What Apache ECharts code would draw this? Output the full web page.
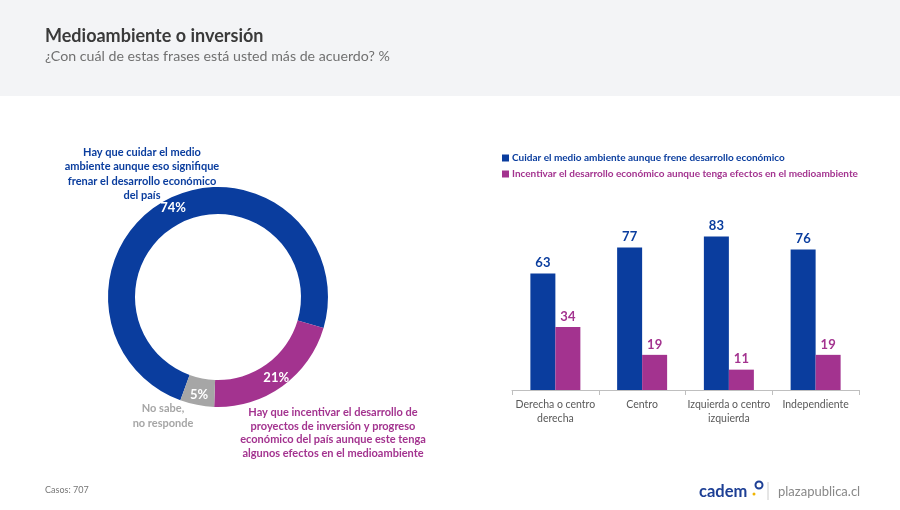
<!DOCTYPE html>
<html><head><meta charset="utf-8">
<script src="https://cdn.jsdelivr.net/npm/echarts@6/dist/echarts.min.js"></script>
<style>html,body{margin:0;padding:0;background:#fff;}#c{width:900px;height:510px;}</style>
</head><body><div id="c"></div>
<script>
const title = 'Medioambiente o inversión';
const subtitle = '¿Con cuál de estas frases está usted más de acuerdo? %';
const donutNames = ['Hay que cuidar el medio\nambiente aunque eso signifique\nfrenar el desarrollo económico\ndel país',
  'Hay que incentivar el desarrollo de\nproyectos de inversión y progreso\neconómico del país aunque este tenga\nalgunos efectos en el medioambiente',
  'No sabe,\nno responde'];
const donutValues = [74, 21, 5];
const categories = ['Derecha o centro\nderecha', 'Centro', 'Izquierda o centro\nizquierda', 'Independiente'];
const seriesNames = ['Cuidar el medio ambiente aunque frene desarrollo económico',
  'Incentivar el desarrollo económico aunque tenga efectos en el medioambiente'];
const cuidar = [63, 77, 83, 76];
const incentivar = [34, 19, 11, 19];
const footerText = 'Casos: 707';

const BLUE = '#0a3d9e', PURPLE = '#a3338f', GREY = '#a6a6a6';
const FONT = 'Lato';
const chart = echarts.init(document.getElementById('c'), null, {renderer: 'canvas'});
chart.setOption({
  animation: false,
  backgroundColor: '#fff',
  textStyle: {fontFamily: FONT},
  graphic: [
    {type: 'rect', x: 0, y: 0, shape: {width: 900, height: 96}, style: {fill: '#f3f4f6'}, z: -10},
    {type: 'text', x: 45, y: 27, style: {text: title, font: 'bold 18px ' + FONT, fill: '#3a3a3a'}},
    {type: 'text', x: 45, y: 49, style: {text: subtitle, font: '14.2px ' + FONT, fill: '#707070'}},
    {type: 'text', x: 45, y: 486, style: {text: footerText, font: '9px ' + FONT, fill: '#777'}},
    {type: 'text', x: 699, y: 483, style: {text: 'cadem', font: 'bold 16.5px ' + FONT, fill: '#1d3f95'}},
    {type: 'circle', shape: {cx: 759, cy: 485, r: 3.5}, style: {fill: '#fff', stroke: '#1d3f95', lineWidth: 2}},
    {type: 'circle', shape: {cx: 754, cy: 494, r: 1.5}, style: {fill: '#f0b400'}},
    {type: 'line', shape: {x1: 768, y1: 482, x2: 768, y2: 500}, style: {stroke: '#ccc', lineWidth: 1}},
    {type: 'text', x: 778, y: 485, style: {text: 'plazapublica.cl', font: '13px ' + FONT, fill: '#888'}},
    {type: 'text', x: 142, y: 145, style: {text: donutNames[0], font: 'bold 11px ' + FONT, fill: BLUE, align: 'center', lineHeight: 14.5}},
    {type: 'text', x: 333, y: 406, style: {text: donutNames[1], font: 'bold 11px ' + FONT, fill: PURPLE, align: 'center', lineHeight: 13.5}},
    {type: 'text', x: 163, y: 401, style: {text: donutNames[2], font: 'bold 11px ' + FONT, fill: GREY, align: 'center', lineHeight: 15}}
  ],
  legend: {
    left: 497, top: 148, orient: 'vertical', itemWidth: 7, itemHeight: 7, itemGap: 6,
    icon: 'rect',
    data: seriesNames.map((n, i) => ({name: n, textStyle: {color: i ? PURPLE : BLUE}})),
    textStyle: {fontSize: 10, fontWeight: 'bold', fontFamily: FONT, padding: [0, 0, 0, -2]}
  },
  grid: {left: 512, right: 41, top: 205, bottom: 120},
  xAxis: {
    type: 'category', data: categories,
    axisLine: {lineStyle: {color: '#bfbfbf'}},
    axisTick: {show: true, length: 5, lineStyle: {color: '#bfbfbf'}},
    axisLabel: {color: '#595959', fontSize: 10.5, fontFamily: FONT, lineHeight: 14, margin: 8, interval: 0}
  },
  yAxis: {type: 'value', min: 0, max: 100, show: false, splitLine: {show: false}},
  series: [
    {type: 'bar', name: seriesNames[0], data: cuidar, barWidth: 25, barGap: '0%', itemStyle: {color: BLUE},
      label: {show: true, position: 'top', distance: 4, color: BLUE, fontWeight: 'bold', fontSize: 13, fontFamily: FONT}},
    {type: 'bar', name: seriesNames[1], data: incentivar, barWidth: 25, barGap: '0%', itemStyle: {color: PURPLE},
      label: {show: true, position: 'top', distance: 4, color: PURPLE, fontWeight: 'bold', fontSize: 13, fontFamily: FONT}},
    {type: 'pie', center: [218, 297], radius: [83, 110], startAngle: 250, clockwise: true,
      data: donutValues.map((v, i) => ({value: v, name: donutNames[i], itemStyle: {color: [BLUE, PURPLE, GREY][i]}})),
      label: {show: true, position: 'inside', formatter: '{c}%', color: '#fff', fontWeight: 'bold', fontSize: 13, fontFamily: FONT},
      labelLine: {show: false}, emphasis: {disabled: true}, itemStyle: {borderWidth: 0}}
  ]
});
</script></body></html>
